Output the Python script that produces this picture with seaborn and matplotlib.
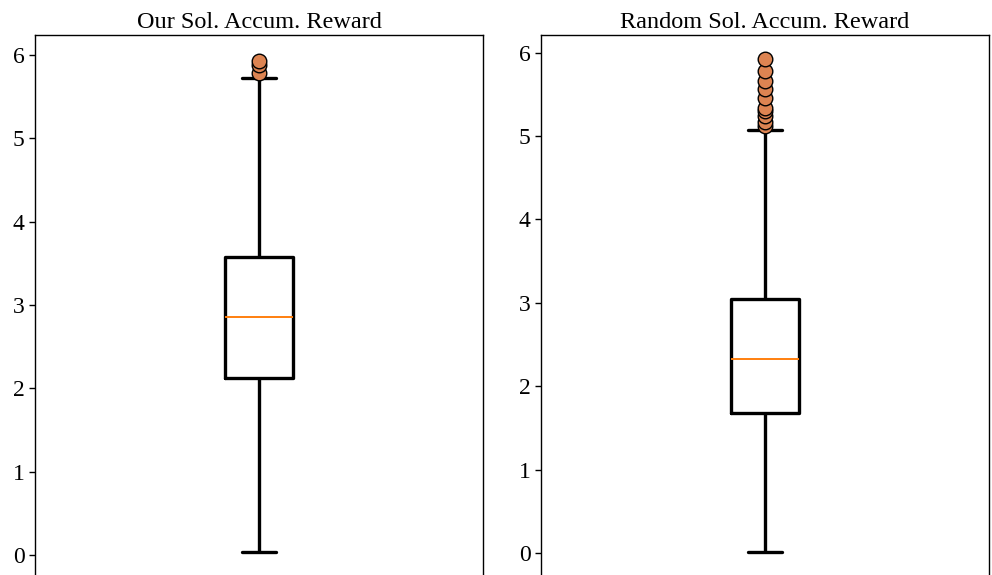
import pandas as pd
import seaborn as sns
import matplotlib.pyplot as plt

titles = ['Our Sol. Accum. Reward', 'Random Sol. Accum. Reward']
whis_lo = [0.04, 0.02]
q1 = [2.12, 1.68]
median = [2.86, 2.33]
q3 = [3.58, 3.05]
whis_hi = [5.73, 5.07]
outliers = [
    [5.79, 5.88, 5.93],
    [5.12, 5.17, 5.24, 5.30, 5.34, 5.45, 5.56, 5.66, 5.78, 5.92],
]


def sample_from_stats(lo, a, m, b, hi, fl):
    # n = 4k+1 points so the linear percentiles land exactly on a, m, b
    k = len(fl) + 1
    return [lo] + [a] * k + [m] * k + [b] * k + [hi] + list(fl)


sns.set_style("ticks")
plt.rcParams['font.family'] = ['Liberation Serif', 'DejaVu Serif']
plt.rcParams['text.color'] = 'black'
plt.rcParams['ytick.color'] = 'black'
plt.rcParams['ytick.labelcolor'] = 'black'

fig = plt.figure(figsize=(9.92, 5.75), dpi=100)
lefts = [35 / 992, 541 / 992]
axes = [fig.add_axes([l, -0.0045, 448 / 992, 0.9436]) for l in lefts]

for i, ax in enumerate(axes):
    vals = sample_from_stats(whis_lo[i], q1[i], median[i], q3[i], whis_hi[i], outliers[i])
    df = pd.DataFrame({'run': titles[i], 'reward': vals})
    sns.boxplot(data=df, x='run', y='reward', ax=ax, width=0.152, fill=False,
                color='black', linewidth=2.4,
                medianprops=dict(color='#ff7f0e', linewidth=1.4),
                flierprops=dict(marker='o', markerfacecolor='#DD8452',
                                markeredgecolor='black', markersize=10.5,
                                markeredgewidth=1.0))
    ax.set_title(titles[i], fontsize=17.5, pad=5, color='black')
    ax.set_xlabel('')
    ax.set_ylabel('')
    ax.set_xticks([])
    ax.set_yticks([0, 1, 2, 3, 4, 5, 6])
    ax.tick_params(axis='y', labelsize=17, length=4, width=1, color='black',
                   labelcolor='black')
    for s in ax.spines.values():
        s.set_visible(True)
        s.set_color('black')
        s.set_linewidth(1.0)

axes[0].set_ylim(-0.27, 6.24)
axes[1].set_ylim(-0.29, 6.21)

fig.savefig('out.png', dpi=100)
